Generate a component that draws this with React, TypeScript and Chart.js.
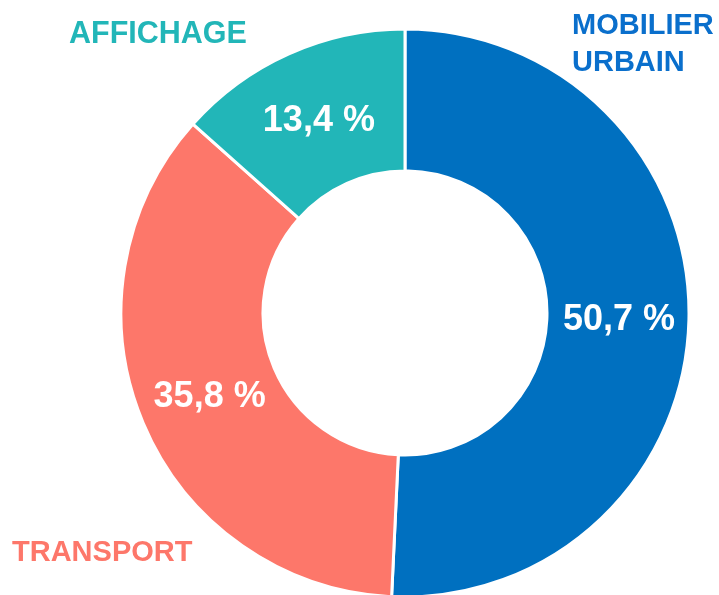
import React, { useEffect, useRef } from "react";
import { Chart, registerables } from "chart.js";

Chart.register(...registerables);

const categories = ["MOBILIER URBAIN", "TRANSPORT", "AFFICHAGE"];
const values = [50.7, 35.8, 13.4];
const sliceColors = ["#0070C0", "#FD776A", "#22B6B8"];
const labelColors = ["#0A6FCC", "#FD776A", "#22B6B8"];

const FONT = "'Liberation Sans', Arial, sans-serif";

const fmt = (v: number) => v.toFixed(1).replace(".", ",") + " %";

const labelsPlugin = {
  id: "sliceLabels",
  afterDatasetsDraw(chart: any) {
    const ctx = chart.ctx;
    const meta = chart.getDatasetMeta(0);
    ctx.save();
    ctx.fillStyle = "#ffffff";
    ctx.font = `bold 36px ${FONT}`;
    ctx.textAlign = "center";
    ctx.textBaseline = "middle";
    meta.data.forEach((arc: any, i: number) => {
      const p = arc.tooltipPosition();
      ctx.fillText(fmt(values[i]), p.x + 1, p.y + 2);
    });

    // category labels
    ctx.textAlign = "left";
    ctx.textBaseline = "alphabetic";
    const placements = [
      { x: 572, y: 34, lh: 36.5, size: 29 },
      { x: 12, y: 561, lh: 36, size: 29 },
      { x: 69, y: 42.5, lh: 36, size: 30.5 },
    ];
    categories.forEach((c, i) => {
      const lines = i === 0 ? c.split(" ") : [c];
      ctx.fillStyle = labelColors[i];
      ctx.font = `bold ${placements[i].size}px ${FONT}`;
      lines.forEach((ln, k) => {
        ctx.fillText(ln, placements[i].x, placements[i].y + k * placements[i].lh);
      });
    });
    ctx.restore();
  },
};

export default function App() {
  const ref = useRef<HTMLCanvasElement>(null);
  useEffect(() => {
    if (!ref.current) return;
    const chart = new Chart(ref.current, {
      type: "doughnut",
      data: {
        labels: categories,
        datasets: [
          {
            data: values,
            backgroundColor: sliceColors,
            borderColor: "#ffffff",
            borderWidth: 3,
            radius: 284,
          } as any,
        ],
      },
      options: {
        animation: false,
        responsive: false,
        cutout: "50%",
        layout: { padding: { left: 91, right: 0, top: 31, bottom: 0 } },
        plugins: {
          legend: { display: false },
          tooltip: { enabled: false },
        },
      },
      plugins: [labelsPlugin],
    });
    return () => chart.destroy();
  }, []);
  return (
    <div style={{ position: "absolute", left: 0, top: 0, width: 719, height: 595, background: "#fff" }}>
      <canvas ref={ref} width={719} height={595} style={{ display: "block" }} />
    </div>
  );
}
